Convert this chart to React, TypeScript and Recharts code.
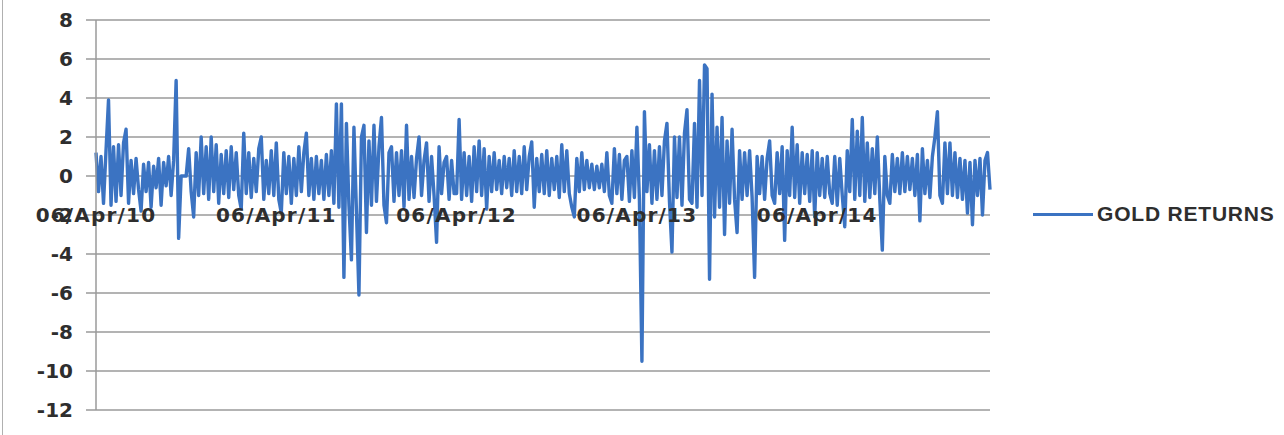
import { LineChart, Line, XAxis, YAxis, CartesianGrid } from 'recharts'

// daily gold returns (%), one point per ~2.5px
const returns2010 = [
  1.2, -0.8, 1.0, -1.4, 1.3, 3.9, -1.5, 1.5, -1.3, 1.6, -1.0, 1.7, 2.4, -1.4, 0.8, -0.9,
  0.9, -0.7, -1.8, 0.6, -0.8, 0.7, -1.6, 0.5, -0.6, 0.9, -1.5, 0.7, -0.5, 1.0, -1.0, 0.8,
  4.9, -3.2, 0, 0, 0, 1.4, -0.8, -2.1, 1.2, -1.0, 2.0, -0.9, 1.5, -1.2, 2.0, -0.8,
  1.6, -1.4, 1.1, -0.9, 1.3, -1.1, 1.5, -0.7, 1.2, -1.0, -1.7, 2.2, -0.9, 1.2, -1.1, 0.9,
  -0.8, 1.4, 2.0, -1.2, 0.8, -0.9, 1.3, -1.0,
]
const returns2011 = [
  1.7, -1.2, -1.9, 1.2, -0.9, 1.0, -1.4, 0.9, -1.0, 1.5, -0.8, 1.2, 2.2, -1.0, 0.9, -1.2,
  1.0, -0.9, 0.8, -1.2, 1.1, -1.0, 1.3, -1.4, 3.7, -1.6, 3.7, -5.2, 2.7, -1.5, -4.3, 2.5,
  -1.8, -6.1, 2.0, 2.6, -2.9, 1.8, -1.5, 2.6, -1.3, 1.5, 3.0, -1.5, -2.4, 1.2, 1.5, -1.3,
  1.2, -1.0, 1.3, -1.6, 2.6, -1.2, 1.0, -1.1, 0.9, 2.0, -1.0, 0.8, 1.7, -1.3, 1.0, -1.0,
  -3.4, 1.5, -0.9, 0.7, 1.0, -1.2, 0.8, -0.9,
]
const returns2012 = [
  -0.9, 2.9, -1.2, 1.2, -1.0, 1.0, -1.3, 1.5, -0.8, 1.8, -1.0, 1.4, -1.7, 1.0, -0.8, 1.2,
  -0.7, 0.8, -0.9, 1.0, -0.6, 0.9, -1.0, 1.3, -0.8, 1.0, -0.9, 1.5, -0.7, 1.0, 1.75, -1.6,
  0.9, -0.8, 1.1, -0.9, 1.3, -1.0, 0.9, -0.7, 1.0, -1.1, 1.6, -0.8, 1.3, -0.9, -1.6, -2.1,
  0.9, -0.8, 1.2, -0.7, 0.8, -0.6, 0.6, -0.7, 0.5, -0.6, 0.6, -0.8, 1.2, -1.0, -1.4, 1.4,
  -0.9, 1.1, -1.2, 0.8, 1.0, -1.3, 1.3, -1.1,
]
const returns2013 = [
  2.5, -1.2, -9.5, 3.3, -0.8, 1.6, -1.4, 1.3, -1.2, 1.5, -1.0, 1.8, 2.7, -1.3, -3.9, 2.0,
  -1.1, 2.0, -1.5, 2.2, 3.4, -1.2, -1.4, 2.7, -1.6, 4.9, -1.0, 5.7, 5.5, -5.3, 4.2, -2.1,
  2.5, -1.6, 3.0, -3.0, 1.8, -1.4, 2.4, -1.2, -2.9, 1.3, -1.2, 1.2, -1.0, 1.3, -1.1, -5.2,
  1.0, -0.9, 1.0, -1.2, 0.9, 1.8, -1.0, -1.4, 1.2, -0.9, 1.5, -3.3, 1.3, -1.0, 2.5, -1.1,
  1.6, -1.4, 1.2, -0.9, 1.1, -1.3, 1.3, -2.1,
]
const returns2014 = [
  1.2, -1.0, 0.9, -1.1, 1.0, -0.9, -1.4, 1.0, -1.5, 0.9, -1.0, -2.6, 1.3, -0.8, 2.9, -1.2,
  2.3, -1.0, 3.0, -1.3, 1.7, -1.1, 1.4, -0.9, 2.0, -1.2, -3.8, 1.0, -1.0, -1.4, 1.1, -0.8,
  0.9, -0.9, 1.2, -0.8, 1.0, -0.7, 0.9, -1.0, 1.1, -2.3, 1.4, -0.9, 0.8, -1.1, 1.0, 2.0,
  3.3, -1.0, -1.4, 1.7, -0.9, 1.7, -1.0, 1.2, -1.1, 0.9, -1.2, 0.8, -1.9, 0.7, -2.5, 0.8,
  -1.0, 0.9, -2.0, 0.8, 1.2, -0.7,
]

const yearLabels = ['06/Apr/10', '06/Apr/11', '06/Apr/12', '06/Apr/13', '06/Apr/14']
const yTicks = [-12, -10, -8, -6, -4, -2, 0, 2, 4, 6, 8]
const seriesName = 'GOLD RETURNS'

const years = [returns2010, returns2011, returns2012, returns2013, returns2014]
const allReturns = years.flat()
const data = allReturns.map((v, i) => ({ t: i, gold: v }))

// tick index where each year starts
const yearStarts: number[] = []
years.reduce((acc, yr) => {
  yearStarts.push(acc)
  return acc + yr.length
}, 0)

const BLUE = '#3b73c2'
const GRID = '#9a9a9a'
const AXIS_FONT = '"DejaVu Sans", Verdana, sans-serif'
const LEGEND_FONT = '"Liberation Sans", Arial, sans-serif'
const TEXT = '#2e2e2e'

// the date labels sit up near the -2 gridline, not at the bottom of the plot
const renderXTick = (props: any) => {
  const { x, y, payload } = props
  const idx = yearStarts.indexOf(payload.value)
  return (
    <text
      x={x}
      y={y - 188}
      textAnchor="middle"
      fontFamily={AXIS_FONT}
      fontSize={20}
      fontWeight="bold"
      letterSpacing={1.2}
      fill={TEXT}
    >
      {idx >= 0 ? yearLabels[idx] : ''}
    </text>
  )
}

export default function App() {
  return (
    <div
      style={{
        position: 'fixed',
        left: 0,
        top: 0,
        width: 1284,
        height: 435,
        background: '#fff',
        overflow: 'hidden',
      }}
    >
      <div
        style={{
          position: 'absolute',
          left: 2,
          top: 0,
          width: 1,
          height: 435,
          background: '#b0b0b0',
        }}
      />
      <LineChart
        width={1284}
        height={435}
        data={data}
        margin={{ top: 20, right: 294, left: 0, bottom: 23 }}
      >
        <CartesianGrid vertical={false} stroke={GRID} strokeWidth={1.5} />
        <YAxis
          type="number"
          domain={[-12, 8]}
          ticks={yTicks}
          width={96}
          interval={0}
          tickSize={10}
          tickMargin={13}
          axisLine={{ stroke: GRID, strokeWidth: 1.5 }}
          tickLine={{ stroke: GRID, strokeWidth: 1.5 }}
          tick={{
            fontFamily: AXIS_FONT,
            fontSize: 20,
            fontWeight: 'bold',
            fill: TEXT,
          }}
        />
        <XAxis
          type="number"
          dataKey="t"
          domain={[0, allReturns.length - 1]}
          ticks={yearStarts}
          interval={0}
          height={2}
          tickSize={0}
          tickMargin={0}
          axisLine={false}
          tickLine={false}
          tick={renderXTick}
        />
        <Line
          type="linear"
          dataKey="gold"
          name={seriesName}
          stroke={BLUE}
          strokeWidth={3.4}
          strokeLinejoin="round"
          dot={false}
          activeDot={false}
          isAnimationActive={false}
        />
      </LineChart>
      <div
        style={{
          position: 'absolute',
          left: 1033,
          top: 202,
          display: 'flex',
          alignItems: 'center',
          fontFamily: LEGEND_FONT,
          fontSize: 21,
          fontWeight: 'bold',
          color: TEXT,
          whiteSpace: 'nowrap',
        }}
      >
        <span
          style={{
            display: 'inline-block',
            width: 60,
            height: 3,
            background: BLUE,
            marginRight: 4,
          }}
        />
        <span style={{ letterSpacing: 0.8 }}>{seriesName}</span>
      </div>
    </div>
  )
}
